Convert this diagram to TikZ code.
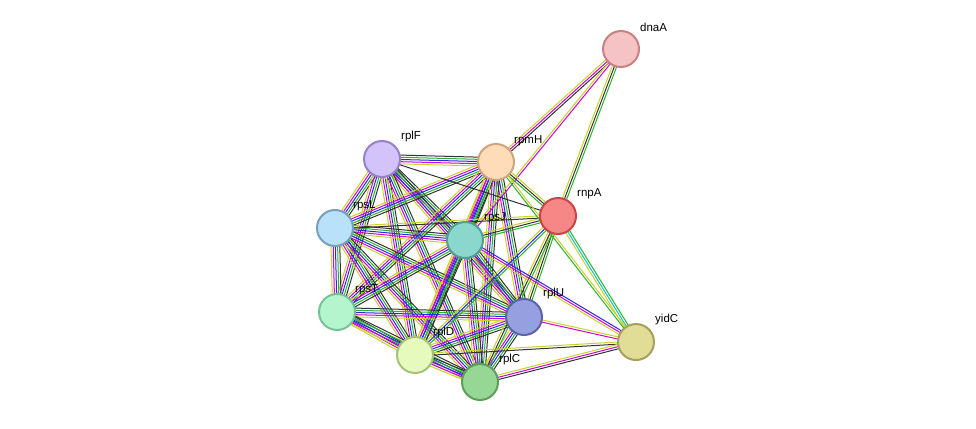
\documentclass[tikz,border=0pt]{standalone}
\usepackage{fontspec}
\setmainfont{Liberation Sans}
\usetikzlibrary{calc}

\definecolor{tm}{RGB}{200,210,40}
\definecolor{db}{RGB}{0,200,210}
\definecolor{ex}{RGB}{210,0,210}
\definecolor{co}{RGB}{40,40,230}
\definecolor{nb}{RGB}{40,180,40}
\definecolor{cx}{RGB}{50,50,50}
% protein colours: border / fill
\definecolor{dnaAd}{RGB}{200,130,130}\definecolor{dnaAf}{RGB}{245,195,195}
\definecolor{rplFd}{RGB}{150,130,200}\definecolor{rplFf}{RGB}{210,195,250}
\definecolor{rpmHd}{RGB}{205,165,125}\definecolor{rpmHf}{RGB}{255,220,185}
\definecolor{rnpAd}{RGB}{200,70,70}\definecolor{rnpAf}{RGB}{245,135,135}
\definecolor{rpsLd}{RGB}{120,160,190}\definecolor{rpsLf}{RGB}{185,225,250}
\definecolor{rpsJd}{RGB}{80,160,150}\definecolor{rpsJf}{RGB}{140,215,205}
\definecolor{rpsTd}{RGB}{120,195,150}\definecolor{rpsTf}{RGB}{180,245,205}
\definecolor{rplUd}{RGB}{90,100,170}\definecolor{rplUf}{RGB}{150,160,225}
\definecolor{yidCd}{RGB}{165,160,90}\definecolor{yidCf}{RGB}{225,220,150}
\definecolor{rplDd}{RGB}{165,195,120}\definecolor{rplDf}{RGB}{230,250,190}
\definecolor{rplCd}{RGB}{90,160,90}\definecolor{rplCf}{RGB}{150,215,150}

% one bundle of parallel lines per link
\newcommand\lnk[4]{%
  \foreach \c [count=\i] in {#4}{%
    \draw[\c,line width=1pt] ($(#1)!{((\i-1)-(#3-1)/2)*2.2pt}!90:(#2)$) -- ($(#2)!{((\i-1)-(#3-1)/2)*2.2pt}!-90:(#1)$);}}

\tikzset{
  prot/.style={circle,minimum size=36pt,inner sep=0pt,line width=2pt,draw=#1d,fill=#1f},
  lab/.style={anchor=west,inner sep=1pt,font=\fontsize{11.5}{13}\selectfont}
}

\begin{document}
\begin{tikzpicture}[x=1pt,y=-1pt]
\useasboundingbox (0,0) rectangle (976,428);

% Coordinates of proteins
\coordinate (dnaA) at (621,49);
\coordinate (rplF) at (382,159);
\coordinate (rpmH) at (496,162);
\coordinate (rnpA) at (558,216);
\coordinate (rpsL) at (335,228);
\coordinate (rpsJ) at (465,240);
\coordinate (rpsT) at (337,312);
\coordinate (rplU) at (524,317);
\coordinate (yidC) at (636,342);
\coordinate (rplD) at (415,355);
\coordinate (rplC) at (480,382);

% Ribosomal clique
\foreach \a/\b in {rplF/rpmH,rplF/rpsL,rplF/rpsJ,rplF/rpsT,rplF/rplU,rplF/rplD,rplF/rplC,
  rpmH/rpsL,rpmH/rpsJ,rpmH/rpsT,rpmH/rplU,rpmH/rplD,rpmH/rplC,
  rpsL/rpsJ,rpsL/rpsT,rpsL/rplU,rpsL/rplD,rpsL/rplC,
  rpsJ/rpsT,rpsJ/rplU,rpsJ/rplD,rpsJ/rplC,
  rpsT/rplU,rpsT/rplD,rpsT/rplC,
  rplU/rplD,rplU/rplC,rplD/rplC}
  {\lnk{\a}{\b}{5}{tm,ex,co,nb,cx}}

% Other links
\lnk{dnaA}{rpmH}{3}{tm,ex,cx}
\lnk{dnaA}{rpsJ}{2}{tm,ex}
\lnk{dnaA}{rnpA}{3}{tm,cx,nb}
\lnk{rnpA}{rpmH}{3}{tm,cx,nb}
\lnk{rnpA}{rplF}{1}{cx}
\lnk{rnpA}{rpsJ}{3}{tm,cx,nb}
\lnk{rnpA}{rpsL}{2}{tm,cx}
\lnk{rnpA}{rplU}{3}{tm,cx,nb}
\lnk{rnpA}{rplD}{3}{tm,co,nb}
\lnk{rnpA}{rplC}{3}{tm,cx,nb}
\lnk{rnpA}{yidC}{3}{tm,db,nb}
\lnk{yidC}{rpmH}{2}{tm,nb}
\lnk{yidC}{rpsJ}{3}{co,ex,tm}
\lnk{yidC}{rplU}{2}{tm,ex}
\lnk{yidC}{rplD}{2}{tm,cx}
\lnk{yidC}{rplC}{3}{tm,ex,cx}

% Proteins
\foreach \p in {dnaA,rplF,rpmH,rnpA,rpsL,rpsJ,rpsT,rplU,yidC,rplD,rplC}
  \node[prot=\p] (n\p) at (\p) {};

% Labels
\node[lab] (t1) at (639,27) {dnaA};
\node[lab] (t2) at (400,137) {rplF};
\node[lab] (t3) at (513,141) {rpmH};
\node[lab] (t4) at (576,194) {rnpA};
\node[lab] (t5) at (352,206) {rpsL};
\node[lab] (t6) at (483,218) {rpsJ};
\node[lab] (t7) at (354,290) {rpsT};
\node[lab] (t8) at (542,294) {rplU};
\node[lab] (t9) at (654,320) {yidC};
\node[lab] (t10) at (432,333) {rplD};
\node[lab] (t11) at (498,360) {rplC};
\end{tikzpicture}
\end{document}
